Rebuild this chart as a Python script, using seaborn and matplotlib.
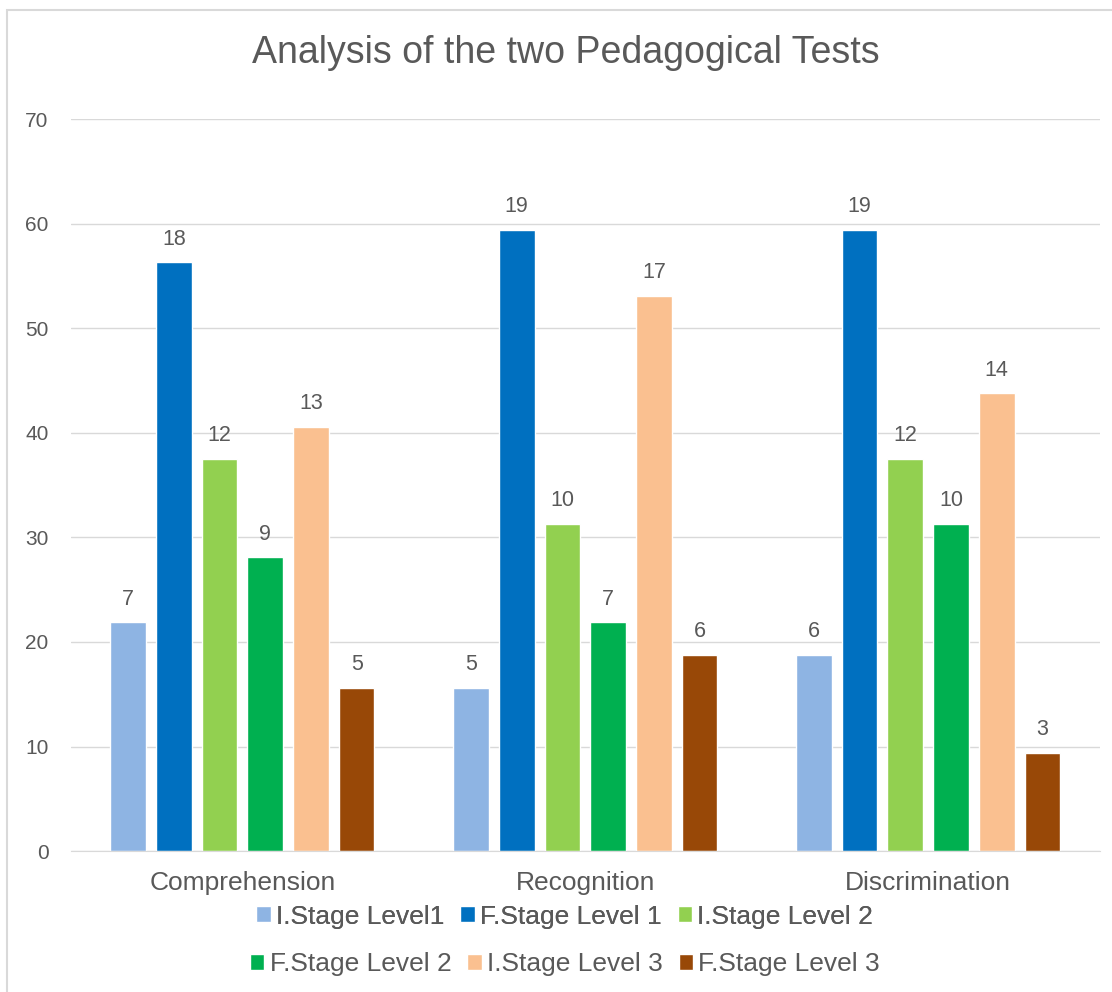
import pandas as pd
import matplotlib.pyplot as plt
import seaborn as sns
from matplotlib.patches import Rectangle, Patch

# data
categories = ["Comprehension", "Recognition", "Discrimination"]
series = ["I.Stage Level1", "F.Stage Level 1", "I.Stage Level 2",
          "F.Stage Level 2", "I.Stage Level 3", "F.Stage Level 3"]
# bar heights (percent) per series, one value per category
heights = {
    "I.Stage Level1":  [21.9, 15.6, 18.8],
    "F.Stage Level 1": [56.3, 59.4, 59.4],
    "I.Stage Level 2": [37.5, 31.3, 37.5],
    "F.Stage Level 2": [28.1, 21.9, 31.3],
    "I.Stage Level 3": [40.6, 53.1, 43.8],
    "F.Stage Level 3": [15.6, 18.8, 9.4],
}
# labels printed above the bars (counts)
counts = {
    "I.Stage Level1":  [7, 5, 6],
    "F.Stage Level 1": [18, 19, 19],
    "I.Stage Level 2": [12, 10, 12],
    "F.Stage Level 2": [9, 7, 10],
    "I.Stage Level 3": [13, 17, 14],
    "F.Stage Level 3": [5, 6, 3],
}
colors = ["#8EB4E3", "#0070C0", "#92D050", "#00B050", "#FAC090", "#984807"]

rows = []
for s in series:
    for c, v in zip(categories, heights[s]):
        rows.append({"category": c, "series": s, "value": v})
df = pd.DataFrame(rows)

sns.set_style("white")
plt.rcParams["font.family"] = ["Liberation Sans", "DejaVu Sans"]
txt = "#595959"

fig = plt.figure(figsize=(11.12, 9.92), dpi=100)
ax = fig.add_axes([0.0638, 0.142, 0.925, 0.738])

sns.barplot(data=df, x="category", y="value", hue="series", hue_order=series,
            order=categories, palette=colors, width=0.8, gap=0.22,
            saturation=1, legend=False, ax=ax)

for cont, s in zip(ax.containers, series):
    ax.bar_label(cont, labels=[str(n) for n in counts[s]], padding=9,
                 fontsize=15.5, color=txt)

ax.set_ylim(0, 70)
ax.set_xlim(-0.5, 2.5)
ax.set_yticks(range(0, 71, 10))
ax.yaxis.grid(True, color="#D9D9D9", linewidth=1)
ax.set_axisbelow(True)
for sp in ["left", "right", "top"]:
    ax.spines[sp].set_visible(False)
ax.spines["bottom"].set_color("#D9D9D9")
ax.tick_params(axis="both", length=0, colors=txt)
ax.tick_params(axis="y", labelsize=15, pad=16)
ax.tick_params(axis="x", labelsize=19, pad=14)
ax.set_xlabel("")
ax.set_ylabel("")

fig.text(0.509, 0.947, "Analysis of the two Pedagogical Tests", ha="center",
         va="center", fontsize=27, color=txt)

handles = [Patch(facecolor=c, label=s) for c, s in zip(colors, series)]
leg_kw = dict(ncol=3, frameon=False, fontsize=19, labelcolor=txt,
              handlelength=0.55, handleheight=0.55, handletextpad=0.2,
              columnspacing=0.6, loc="center", borderpad=0)
leg1 = fig.legend(handles=handles[:3], bbox_to_anchor=(0.508, 0.076), **leg_kw)
fig.add_artist(leg1)
fig.legend(handles=handles[3:], bbox_to_anchor=(0.508, 0.028), **leg_kw)

# chart frame, only its left and top edges fall inside the picture
fig.add_artist(Rectangle((0.0063, -0.1), 1.2, 1.09, transform=fig.transFigure,
                         fill=False, edgecolor="#D9D9D9", linewidth=1.5))

fig.savefig("out.png", dpi=100)
